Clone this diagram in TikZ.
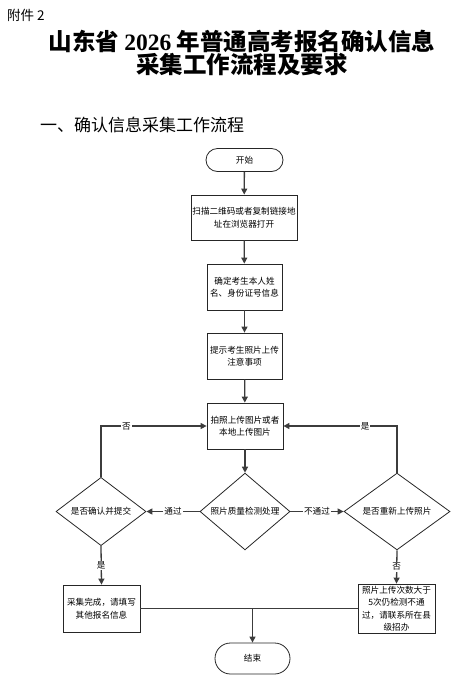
\documentclass[tikz,border=0pt]{standalone}
\usepackage{fontspec}
\setmainfont{Noto Sans CJK SC}
\newfontfamily\serifdigits{Liberation Serif}
\usetikzlibrary{arrows.meta,shapes.geometric,shapes.misc}
\definecolor{lineg}{HTML}{3C3C3C}
\tikzset{
  flow/.style={draw=lineg, line width=1.3pt, -{Triangle[length=6pt,width=6pt]}},
  plain/.style={draw=lineg, line width=1.3pt},
  boxnode/.style={draw=black!85, line width=0.8pt, fill=white, align=center, font=\fontsize{8.6}{12.5}\selectfont, inner sep=0pt},
  termnode/.style={draw=black!85, line width=0.8pt, rounded rectangle, align=center, font=\fontsize{8.6}{12.5}\selectfont, inner sep=0pt},
  decnode/.style={draw=black!85, line width=0.8pt, diamond, align=center, font=\fontsize{8.6}{12.5}\selectfont, inner sep=0pt},
  lbl/.style={fill=white, inner sep=1pt, font=\fontsize{8.6}{10}\selectfont}
}
\begin{document}
\begin{tikzpicture}[x=1pt,y=-1pt]
\useasboundingbox (0,0) rectangle (459,681);
% headings
\node[anchor=west, inner sep=0pt, font=\fontsize{13.5}{14}\selectfont] (att) at (7,15) {附件 2};
\node[inner sep=0pt, font=\fontsize{23.5}{26}\selectfont\bfseries] (t1) at (242,41) {山东省 {\serifdigits\bfseries 2026} 年普通高考报名确认信息};
\node[inner sep=0pt, font=\fontsize{23.5}{26}\selectfont\bfseries] (t2) at (242,64.5) {采集工作流程及要求};
\node[anchor=west, inner sep=0pt, font=\fontsize{17}{18}\selectfont] (h1) at (40,125) {一、确认信息采集工作流程};
% nodes
\node[termnode, minimum width=77pt, minimum height=23pt] (start) at (244.5,160) {开始};
\node[boxnode, minimum width=106pt, minimum height=45pt] (b1) at (244,217.5) {扫描二维码或者复制链接地\\址在浏览器打开};
\node[boxnode, minimum width=75pt, minimum height=46pt] (b2) at (244.5,287) {确定考生本人姓\\名、身份证号信息};
\node[boxnode, minimum width=75pt, minimum height=46pt] (b3) at (244.5,356) {提示考生照片上传\\注意事项};
\node[boxnode, minimum width=76pt, minimum height=46pt] (b4) at (245,426) {拍照上传图片或者\\本地上传图片};
\node[decnode, minimum width=90pt, minimum height=56pt] (d0) at (245,511.5) {照片质量检测处理};
\node[decnode, minimum width=90pt, minimum height=56pt] (dl) at (101,511.5) {是否确认并提交};
\node[decnode, minimum width=106pt, minimum height=65pt] (dr) at (397,511.5) {是否重新上传照片};
\node[boxnode, minimum width=77pt, minimum height=47pt] (bl) at (101.5,608.5) {采集完成，请填写\\其他报名信息};
\node[boxnode, minimum width=77pt, minimum height=49pt] (br) at (396.5,608.5) {照片上传次数大于\\5次仍检测不通\\过，请联系所在县\\级招办};
\node[termnode, minimum width=75pt, minimum height=31pt] (end) at (252.5,658.5) {结束};
% connectors
\draw[flow] (start) -- (b1);
\draw[flow] (b1) -- (b2);
\draw[flow] (b2) -- (b3);
\draw[flow] (b3) -- (b4);
\draw[flow] (b4) -- (d0);
\draw[flow] (d0.west) -- node[lbl] {通过} (dl.east);
\draw[flow] (d0.east) -- node[lbl] {不通过} (dr.west);
\draw[flow] (dl.north) |- node[lbl, pos=0.62] {否} (b4.west);
\draw[flow] (dr.north) |- node[lbl, pos=0.64] {是} (b4.east);
\draw[flow] (dl.south) -- node[lbl, pos=0.5] {是} (bl.north);
\draw[flow] (dr.south) -- node[lbl, pos=0.5] {否} (br.north);
\coordinate (jn) at (end.north |- bl.east);
\draw[plain] (bl.east) -- (br.west);
\draw[flow] (jn) -- (end.north);
\end{tikzpicture}
\end{document}
